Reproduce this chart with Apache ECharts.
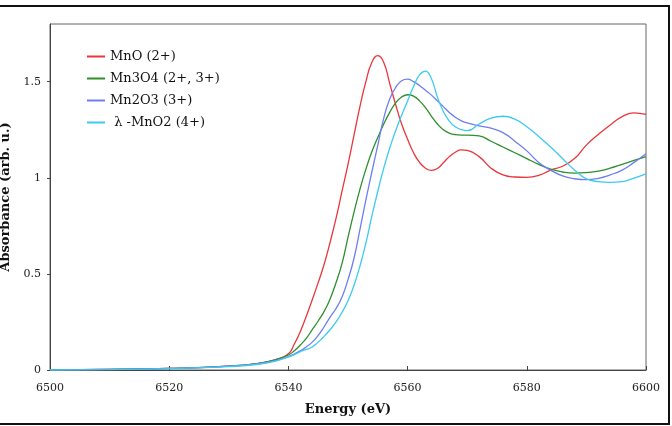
<!DOCTYPE html>
<html>
<head>
<meta charset="utf-8">
<script src="https://cdn.jsdelivr.net/npm/echarts@6/dist/echarts.min.js"></script>
<style>
  html, body { margin: 0; padding: 0; background: #fff; }
  #chart { width: 672px; height: 426px; }
</style>
</head>
<body>
<div id="chart"></div>
<script>
    /* energy grid (eV): 1 eV steps across the edge, 2 eV after */
    var energy = [6500, 6510, 6520, 6530, 6535, 6538,
        6540, 6541, 6542, 6543, 6544, 6545, 6546, 6547, 6548, 6549,
        6550, 6551, 6552, 6553, 6554, 6555, 6556, 6557, 6558, 6559,
        6560, 6561, 6562, 6563, 6564, 6565, 6566, 6567, 6568, 6569,
        6570, 6572, 6574, 6576, 6578, 6580, 6582, 6584, 6586, 6588,
        6590, 6592, 6594, 6596, 6598, 6600];

    var mnO = [0, 0.003, 0.008, 0.02, 0.035, 0.055,
        0.085, 0.135, 0.20, 0.28, 0.365, 0.455, 0.55, 0.665, 0.79, 0.93,
        1.07, 1.22, 1.37, 1.50, 1.60, 1.635, 1.60, 1.49, 1.38, 1.28,
        1.20, 1.13, 1.08, 1.05, 1.038, 1.048, 1.078, 1.11, 1.133, 1.145,
        1.142, 1.11, 1.05, 1.015, 1.004, 1.002, 1.012, 1.04, 1.06, 1.10,
        1.17, 1.225, 1.275, 1.318, 1.338, 1.33];
    var mn3O4 = [0, 0.003, 0.008, 0.02, 0.035, 0.055,
        0.078, 0.10, 0.13, 0.165, 0.21, 0.255, 0.305, 0.37, 0.455, 0.555,
        0.69, 0.82, 0.94, 1.045, 1.135, 1.21, 1.28, 1.34, 1.39, 1.42,
        1.432, 1.425, 1.40, 1.365, 1.32, 1.28, 1.25, 1.232, 1.224, 1.222,
        1.222, 1.218, 1.19, 1.16, 1.13, 1.10, 1.07, 1.045, 1.03, 1.024,
        1.027, 1.035, 1.05, 1.07, 1.09, 1.11];
    var mn2O3 = [0, 0.003, 0.008, 0.02, 0.033, 0.05,
        0.07, 0.083, 0.10, 0.12, 0.145, 0.18, 0.225, 0.275, 0.32, 0.38,
        0.47, 0.58, 0.73, 0.885, 1.03, 1.17, 1.31, 1.41, 1.47, 1.505,
        1.513, 1.50, 1.48, 1.455, 1.43, 1.40, 1.37, 1.34, 1.315, 1.297,
        1.285, 1.27, 1.258, 1.235, 1.19, 1.14, 1.08, 1.04, 1.01, 0.995,
        0.99, 0.997, 1.015, 1.04, 1.08, 1.125];
    var lmnO2 = [0, 0.002, 0.007, 0.018, 0.03, 0.048,
        0.068, 0.08, 0.095, 0.107, 0.12, 0.145, 0.175, 0.21, 0.25, 0.30,
        0.36, 0.44, 0.54, 0.66, 0.80, 0.93, 1.05, 1.155, 1.245, 1.325,
        1.40, 1.475, 1.535, 1.555, 1.515, 1.42, 1.345, 1.295, 1.265, 1.25,
        1.245, 1.28, 1.31, 1.32, 1.305, 1.265, 1.215, 1.16, 1.10, 1.04,
        0.995, 0.98, 0.976, 0.98, 0.998, 1.02];

    var names = ['MnO (2+)', 'Mn3O4 (2+, 3+)', 'Mn2O3 (3+)', ' λ -MnO2 (4+)'];
    var colors = ['#e8363c', '#2e8f2e', '#6d7ff0', '#3ccbf0'];
    var xTicks = [6500, 6520, 6540, 6560, 6580, 6600];
    var yTicks = [0, 0.5, 1, 1.5];

    var font = '"DejaVu Serif", "Liberation Serif", serif';

    function pairs(vals) {
        var out = [];
        for (var i = 0; i < energy.length; i++) {
            out.push([energy[i], vals[i]]);
        }
        return out;
    }

    var allData = [mnO, mn3O4, mn2O3, lmnO2];
    var series = [];
    for (var s = 0; s < allData.length; s++) {
        series.push({
            name: names[s],
            type: 'line',
            smooth: 0.5,
            symbol: 'none',
            lineStyle: { color: colors[s], width: 1.3 },
            itemStyle: { color: colors[s] },
            data: pairs(allData[s])
        });
    }

    var chart = echarts.init(document.getElementById('chart'));
    var option = {
        animation: false,
        backgroundColor: '#fff',
        textStyle: { fontFamily: font },
        graphic: [{
            type: 'rect',
            shape: { x: -5, y: 6, width: 674, height: 418 },
            style: { fill: 'none', stroke: '#111', lineWidth: 2 },
            silent: true
        }],
        grid: {
            left: 50, right: 26, top: 24, bottom: 56,
            outerBoundsMode: 'none',
            containLabel: false,
            show: true, borderColor: '#666', borderWidth: 1
        },
        legend: {
            orient: 'vertical',
            left: 82, top: 45,
            itemWidth: 18, itemHeight: 2, itemGap: 9,
            icon: 'rect',
            textStyle: { fontFamily: font, fontSize: 13, color: '#111' },
            data: names
        },
        xAxis: {
            type: 'value',
            min: 6500, max: 6600, interval: 20,
            name: 'Energy (eV)',
            nameLocation: 'middle',
            nameGap: 33,
            nameTextStyle: { fontFamily: font, fontSize: 13, fontWeight: 'bold', color: '#111' },
            axisLine: { lineStyle: { color: '#444' } },
            axisTick: { inside: true, length: 4, lineStyle: { color: '#444' } },
            axisLabel: {
                fontFamily: font, fontSize: 11, color: '#222', margin: 13,
                formatter: function (v) { return xTicks.indexOf(v) >= 0 ? String(v) : ''; }
            },
            splitLine: { show: false }
        },
        yAxis: {
            type: 'value',
            min: 0, max: 1.8, interval: 0.5,
            name: 'Absorbance (arb. u.)',
            nameLocation: 'middle',
            nameGap: 31,
            nameTextStyle: { fontFamily: font, fontSize: 13, fontWeight: 'bold', color: '#111' },
            axisLine: { show: true, lineStyle: { color: '#444' } },
            axisTick: { show: true, inside: false, length: 3, lineStyle: { color: '#444' } },
            axisLabel: {
                fontFamily: font, fontSize: 11, color: '#222', margin: 9,
                showMaxLabel: false,
                formatter: function (v) { return yTicks.indexOf(v) >= 0 ? String(v) : ''; }
            },
            splitLine: { show: false }
        },
        series: series
    };
    chart.setOption(option);
</script>
</body>
</html>
